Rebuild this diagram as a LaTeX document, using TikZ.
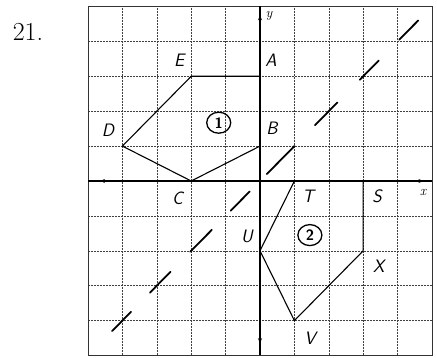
\documentclass[tikz,border=0pt]{standalone}
\usetikzlibrary{arrows.meta,shapes.geometric}
\begin{document}
\begin{tikzpicture}[x=34.4pt,y=34.9pt,
  gridline/.style={draw=black!75,line width=0.55pt,dash pattern=on 2pt off 1pt},
  border/.style={draw=black!80,line width=0.9pt},
  axis/.style={draw=black,line width=1.4pt},
  figline/.style={draw=black,line width=1.1pt,line join=round},
  refl/.style={draw=black,line width=1.8pt,line cap=round},
  lbl/.style={font=\fontsize{18}{18}\selectfont\sffamily\itshape},
  axlbl/.style={font=\fontsize{14}{14}\selectfont\itshape},
  circ/.style={draw=black,line width=1.3pt,ellipse,inner sep=1pt,minimum width=24pt,minimum height=21pt,font=\fontsize{15}{15}\selectfont\sffamily\bfseries}]
\useasboundingbox (-260pt,-177pt) rectangle (177pt,181pt);
\node[font=\fontsize{26}{26}\selectfont] (num) at (-232pt,149pt) {21.};
% grid
\foreach \i in {-4,...,4} {
  \draw[gridline] (\i,-5) -- (\i,5);
  \draw[gridline] (-5,\i) -- (5,\i);
}
\draw[border] (-5,-5) rectangle (5,5);
% axes
\draw[axis] (-5,0) -- (5,0);
\draw[axis] (0,-5) -- (0,5);
\draw[-{Stealth[length=5pt,width=4pt]},line width=1pt] (4.4,0) -- (4.75,0);
\draw[-{Stealth[length=5pt,width=4pt]},line width=1pt] (0,4.4) -- (0,4.75);
\draw[-{Stealth[length=5pt,width=4pt]},line width=1pt] (0,-4.3) -- (0,-4.65);
\draw[-{Stealth[length=5pt,width=4pt]},line width=1pt] (-4.3,0) -- (-4.65,0);
\node[axlbl] (ylab) at (9pt,165pt) {y};
\node[axlbl] (xlab) at (163pt,-11pt) {x};
% figure 1
\coordinate (A) at (0,3);
\coordinate (E) at (-2,3);
\coordinate (D) at (-4,1);
\coordinate (C) at (-2,0);
\coordinate (B) at (0,1);
\draw[figline] (A) -- (E) -- (D) -- (C) -- (B);
\node[lbl] (lE) at (-2.35,3.45) {E};
\node[lbl] (lA) at (0.32,3.45) {A};
\node[lbl] (lD) at (-4.42,1.45) {D};
\node[lbl] (lB) at (0.35,1.5) {B};
\node[lbl] (lC) at (-2.4,-0.5) {C};
\node[circ] (one) at (-1.2,1.67) {1};
% figure 2
\coordinate (T) at (1,0);
\coordinate (S) at (3,0);
\coordinate (X) at (3,-2);
\coordinate (V) at (1,-4);
\coordinate (U) at (0,-2);
\draw[figline] (S) -- (X) -- (V) -- (U) -- (T);
\node[lbl] (lT) at (1.4,-0.45) {T};
\node[lbl] (lS) at (3.4,-0.45) {S};
\node[lbl] (lU) at (-0.38,-1.6) {U};
\node[lbl] (lX) at (3.45,-2.45) {X};
\node[lbl] (lV) at (1.45,-4.5) {V};
\node[circ] (two) at (1.45,-1.55) {2};
% reflection line y=x (dashes)
\foreach \a/\b in {-4.3/-3.75,-3.2/-2.6,-2.03/-1.4,-0.85/-0.3,0.2/1.0,1.6/2.25,2.9/3.45,4.05/4.6}
  \draw[refl] (\a,\a) -- (\b,\b);
\end{tikzpicture}
\end{document}
